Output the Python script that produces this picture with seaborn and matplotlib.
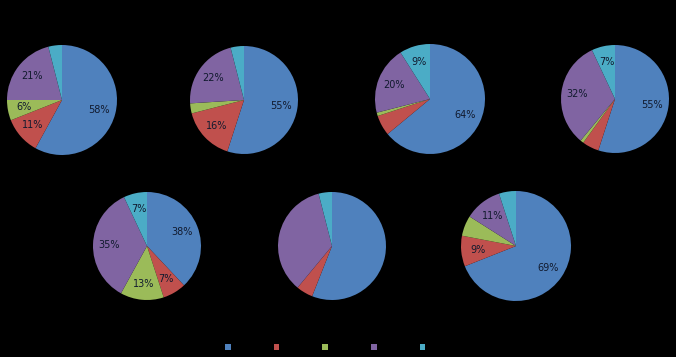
"""
Sete gráficos de pizza com fundo preto e legenda na parte inferior.
Salva em out.png
"""

import matplotlib
matplotlib.use("Agg")
import matplotlib.pyplot as plt
import matplotlib.patches as mpatches
import seaborn as sns

# categorias (rótulos da legenda, desenhados em preto sobre preto como no original)
categories = ["Série 1", "Série 2", "Série 3", "Série 4", "Série 5"]

# valores (%) por gráfico, na ordem azul, vermelho, verde, roxo, ciano
pie1 = [58, 11, 6, 21, 4]
pie2 = [55, 16, 3, 22, 4]
pie3 = [64, 6, 1, 20, 9]
pie4 = [55, 5, 1, 32, 7]
pie5 = [38, 7, 13, 35, 7]
pie6 = [56, 5, 0, 35, 4]
pie7 = [69, 9, 6, 11, 5]

# rótulos de dados visíveis em cada gráfico
labels1 = ["58%", "11%", "6%", "21%", ""]
labels2 = ["55%", "16%", "", "22%", ""]
labels3 = ["64%", "", "", "20%", "9%"]
labels4 = ["55%", "", "", "32%", "7%"]
labels5 = ["38%", "7%", "13%", "35%", "7%"]
labels6 = ["", "", "", "", ""]
labels7 = ["69%", "9%", "", "11%", ""]

colors = ["#4F81BD", "#C0504D", "#9BBB59", "#8064A2", "#4BACC6"]

W, H = 676, 357


def main():
    sns.set_theme(style="white")
    plt.rcParams["font.family"] = ["DejaVu Sans"]
    palette = sns.color_palette(colors)

    fig = plt.figure(figsize=(W / 100, H / 100), dpi=100, facecolor="black")

    pies = [pie1, pie2, pie3, pie4, pie5, pie6, pie7]
    labels = [labels1, labels2, labels3, labels4, labels5, labels6, labels7]
    # centro (x, y) e raio em pixels
    layout = [(62, 100, 55), (244, 100, 54), (430, 99, 55), (615, 99, 54),
              (147, 246, 54), (332, 246, 54), (516, 246, 55)]

    for vals, labs, (cx, cy, r) in zip(pies, labels, layout):
        ax = fig.add_axes([(cx - r) / W, (H - cy - r) / H, 2 * r / W, 2 * r / H])
        ax.set_facecolor("black")
        wedges, _, autotexts = ax.pie(
            vals, colors=palette, startangle=90, counterclock=False,
            autopct="%1.0f%%", pctdistance=0.7,
            wedgeprops={"linewidth": 0},
            textprops={"fontsize": 7, "color": "#111a2e"})
        for t, lab in zip(autotexts, labs):
            t.set_text(lab)
        ax.set_xlim(-1, 1)
        ax.set_ylim(-1, 1)
        ax.axis("off")

    handles = [mpatches.Patch(facecolor=c, edgecolor="none") for c in palette]
    leg = fig.legend(handles, categories, loc="center", ncol=5,
                     bbox_to_anchor=(343 / W, 1 - 348 / H),
                     frameon=False, fontsize=6.5, handlelength=0.6,
                     handleheight=0.6, handletextpad=0.4, columnspacing=0.85)
    for t in leg.get_texts():
        t.set_color("black")

    fig.savefig("out.png", dpi=100, facecolor="black")
    plt.close(fig)


if __name__ == "__main__":
    main()
